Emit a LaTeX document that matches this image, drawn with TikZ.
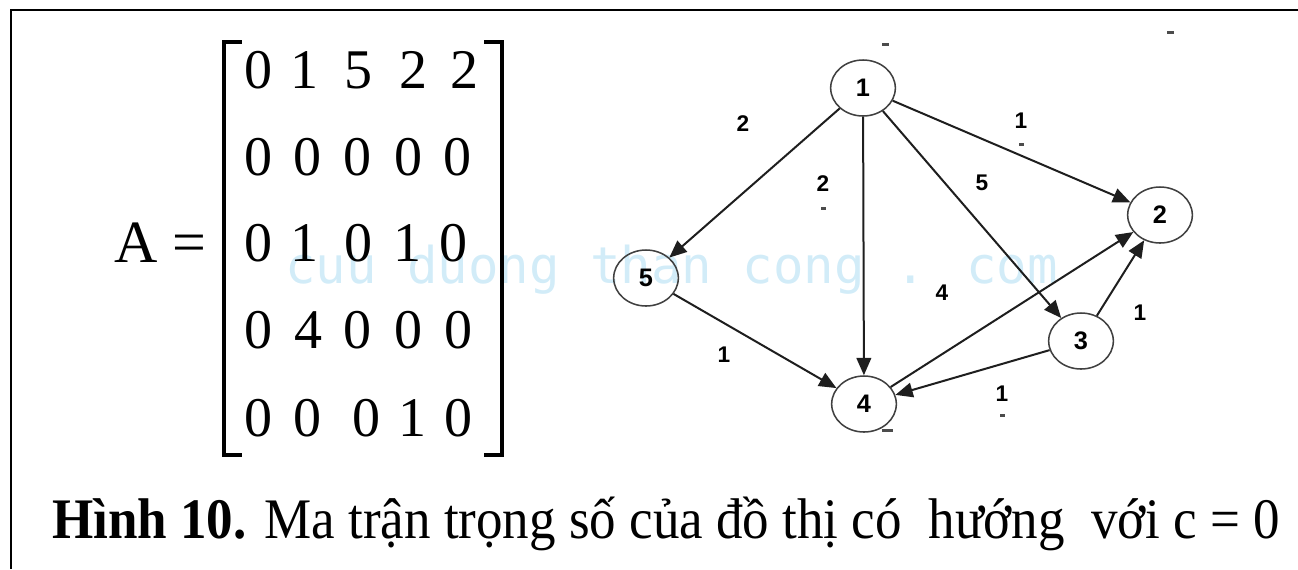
\documentclass[tikz,border=0pt]{standalone}
\usepackage{fontspec}
\setmainfont{Liberation Serif}
\newfontfamily\lsans{Liberation Sans}
\newfontfamily\wmono{DejaVu Sans Mono}
\usetikzlibrary{shapes.geometric,arrows.meta}
\definecolor{wmark}{RGB}{210,236,248}
\definecolor{edgec}{RGB}{30,30,30}
\begin{document}
\begin{tikzpicture}[x=0.75pt,y=-0.75pt,
  vert/.style={ellipse,draw=edgec!85,line width=1.15pt,minimum width=48.5pt,minimum height=42pt,inner sep=0pt,font=\lsans\bfseries\fontsize{19}{19}\selectfont},
  wlabel/.style={font=\lsans\bfseries\fontsize{17}{17}\selectfont,inner sep=0pt},
  edgearrow/.style={draw=edgec,line width=1.5pt,-{Triangle[length=13pt,width=11pt]}},
  entry/.style={font=\fontsize{42}{42}\selectfont,inner sep=0pt},
  brk/.style={line width=2.4pt,line cap=rect},
  frameline/.style={line width=2.2pt},
  speck/.style={fill=black!70,draw=none}]
\useasboundingbox (0,0) rectangle (1298,569);
% frame
\coordinate (fa) at (1298,10);
\coordinate (fb) at (11,10);
\coordinate (fc) at (11,569);
\draw[frameline] (fa) -- (fb) -- (fc);
% watermark
\node[font=\wmono\fontsize{38}{38}\selectfont,text=wmark,inner sep=0pt,anchor=base west] (wm) at (285,283) {cuu duong than cong . com};
% matrix
\node[entry,anchor=east,font=\fontsize{45}{45}\selectfont] (Alab) at (207,243) {A =};
\coordinate (lb1) at (240,42);
\coordinate (lb2) at (224,42);
\coordinate (lb3) at (224,455);
\coordinate (lb4) at (240,455);
\draw[brk] (lb1) -- (lb2) -- (lb3) -- (lb4);
\coordinate (rb1) at (486,42);
\coordinate (rb2) at (502,42);
\coordinate (rb3) at (502,455);
\coordinate (rb4) at (486,455);
\draw[brk] (rb1) -- (rb2) -- (rb3) -- (rb4);
\foreach \x/\y/\v [count=\i] in {
  258/70/0, 304/70/1, 358/70/5, 413/70/2, 464/70/2,
  258/157/0, 307/157/0, 357/157/0, 408/157/0, 457/157/0,
  258/243/0, 304/243/1, 358/243/0, 407/243/1, 453/243/0,
  258/330/0, 308/330/4, 357/330/0, 408/330/0, 458/330/0,
  258/418/0, 307/418/0, 366/418/0, 412/418/1, 458/418/0}
  \node[entry] (m\i) at (\x,\y) {\v};
% graph
\node[vert] (n1) at (863,88) {1};
\node[vert] (n2) at (1160,215) {2};
\node[vert] (n3) at (1081,341) {3};
\node[vert] (n4) at (864,404) {4};
\node[vert] (n5) at (646,278) {5};
\draw[edgearrow] (n1) -- (n5);
\draw[edgearrow] (n1) -- (n4);
\draw[edgearrow] (n1) -- (n3);
\draw[edgearrow] (n1) -- (n2);
\draw[edgearrow] (n5) -- (n4);
\draw[edgearrow] (n4) -- (n2);
\draw[edgearrow] (n3) -- (n2);
\draw[edgearrow] (n3) -- (n4);
\node[wlabel] (w15) at (743,124) {2};
\node[wlabel] (w14) at (823,184) {2};
\node[wlabel] (w13) at (982,183) {5};
\node[wlabel] (w12) at (1021,121) {1};
\node[wlabel] (w42) at (942,293) {4};
\node[wlabel] (w32) at (1140,313) {1};
\node[wlabel] (w54) at (724,355) {1};
\node[wlabel] (w34) at (1002,394) {1};
% specks
\fill[speck] (882,43) rectangle (889,46);
\fill[speck] (1167,31) rectangle (1174,34);
\fill[speck] (1019,143) rectangle (1024,146);
\fill[speck] (821,207) rectangle (826,210);
\fill[speck] (1000,414) rectangle (1005,417);
\fill[speck] (882,429) rectangle (893,432);
% caption
\node[anchor=base west,inner sep=0pt,font=\fontsize{43}{43}\selectfont] (cap) at (52,538)
  {\resizebox{921pt}{\height}{\textbf{Hình 10.} Ma trận trọng số của đồ thị có\ \ hướng\ \ với c = 0}};
\end{tikzpicture}
\end{document}
